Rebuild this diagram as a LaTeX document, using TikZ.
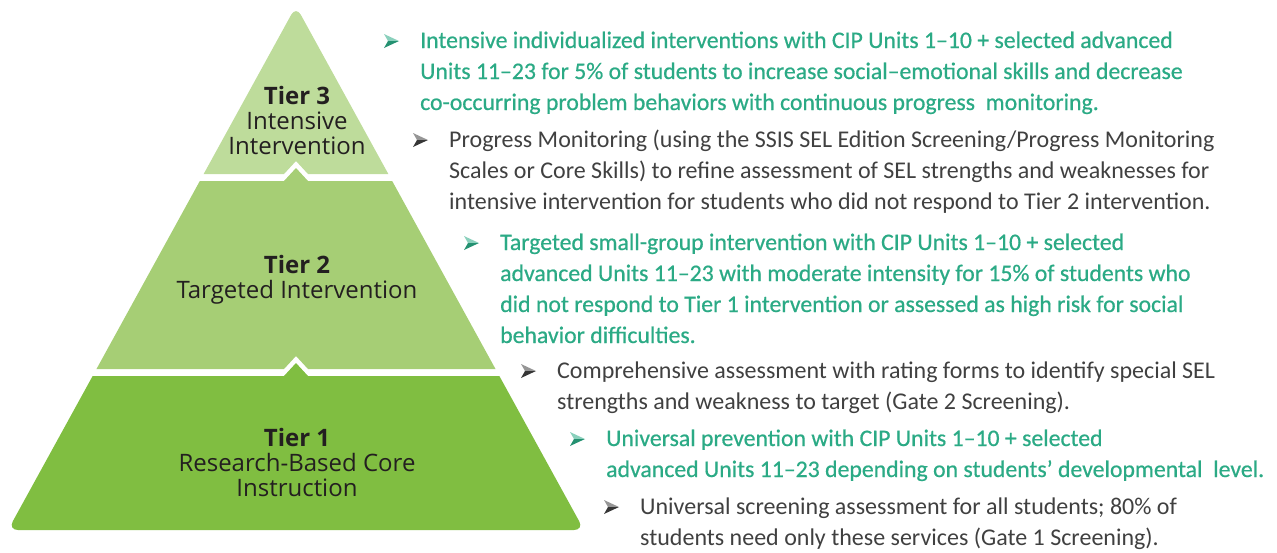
\documentclass[tikz,border=0pt]{standalone}
\usepackage{fontspec}
\setmainfont{Carlito}
\newfontfamily\tealfont[FakeBold=0.6]{Carlito}
\newfontfamily\tierfont{Open Sans}
\usetikzlibrary{positioning}

\definecolor{tierthree}{HTML}{BEDC9B}
\definecolor{tiertwo}{HTML}{A6CE75}
\definecolor{tierone}{HTML}{80BE41}
\definecolor{tealtext}{HTML}{2BAA85}
\definecolor{greytext}{HTML}{404040}
\definecolor{labeltext}{HTML}{231F20}

\tikzset{
  tierlabel/.style={font=\tierfont\fontsize{24}{25}\selectfont, text=labeltext, align=center, inner sep=0pt, anchor=base},
  greyitem/.style={font=\fontsize{24}{31}\selectfont, text=greytext, align=left, inner sep=0pt, anchor=base west},
  greenitem/.style={greyitem, font=\tealfont\fontsize{23.75}{31}\selectfont, text=tealtext},
  pics/dart/.style={code={
    \fill[#1!55!white] (0,-7) -- (15,0) -- (4,0) -- cycle;
    \fill[#1!85!black] (0,7) -- (15,0) -- (4,0) -- cycle;
  }},
}

\begin{document}
\begin{tikzpicture}[x=1pt, y=-1pt]
    \useasboundingbox (0,0) rectangle (1277,552);

    % --- pyramid, cut into three tiers ---
    \begin{scope}
        \clip (-10,-10) -- (600,-10) -- (600,174) -- (308,174) -- (296,161) -- (284,174) -- (-10,174) -- cycle;
        \fill[tierthree, rounded corners=10pt] (296,6) -- (584,530) -- (8,530) -- cycle;
    \end{scope}
    \begin{scope}
        \clip (-10,181) -- (284,181) -- (296,168) -- (308,181) -- (600,181) -- (600,369) -- (308,369) -- (296,356) -- (284,369) -- (-10,369) -- cycle;
        \fill[tiertwo, rounded corners=10pt] (296,6) -- (584,530) -- (8,530) -- cycle;
    \end{scope}
    \begin{scope}
        \clip (-10,376) -- (284,376) -- (296,363) -- (308,376) -- (600,376) -- (600,560) -- (-10,560) -- cycle;
        \fill[tierone, rounded corners=10pt] (296,6) -- (584,530) -- (8,530) -- cycle;
    \end{scope}

    % labels sit on their last line
    \node[tierlabel] (tier3) at (297,154) {\textbf{Tier 3}\\Intensive\\Intervention};
    \node[tierlabel] (tier2) at (297,298) {\textbf{Tier 2}\\Targeted Intervention};
    \node[tierlabel] (tier1) at (297,496) {\textbf{Tier 1}\\Research-Based Core\\Instruction};

    % --- items beside the tiers ---
    \node[greenitem] (item1) at (420,110) {Intensive individualized interventions with CIP Units 1–10 + selected advanced\\Units 11–23 for 5\% of students to increase social–emotional skills and decrease\\co-occurring problem behaviors with continuous progress~ monitoring.};
    \node[greyitem] (item2) at (449,209) {Progress Monitoring (using the SSIS SEL Edition Screening/Progress Monitoring\\Scales or Core Skills) to refine assessment of SEL strengths and weaknesses for\\intensive intervention for students who did not respond to Tier 2 intervention.};
    \node[greenitem] (item3) at (500,343) {Targeted small-group intervention with CIP Units 1–10 + selected\\advanced Units 11–23 with moderate intensity for 15\% of students who\\did not respond to Tier 1 intervention or assessed as high risk for social\\behavior difficulties.};
    \node[greyitem] (item4) at (557,409) {Comprehensive assessment with rating forms to identify special SEL\\strengths and weakness to target (Gate 2 Screening).};
    \node[greenitem] (item5) at (606,477) {Universal prevention with CIP Units 1–10 + selected\\advanced Units 11–23 depending on students’ developmental~ level.};
    \node[greyitem] (item6) at (640,545) {Universal screening assessment for all students; 80\% of\\students need only these services (Gate 1 Screening).};

    % darts on the first line of each item
    \foreach \n/\c/\k in {item1/tealtext/2, item2/greytext/2, item3/tealtext/3, item4/greytext/1, item5/tealtext/1, item6/greytext/1}
        \pic at ([xshift=-36pt, yshift=\k*31pt+7pt]\n.base west) {dart=\c};
\end{tikzpicture}
\end{document}
